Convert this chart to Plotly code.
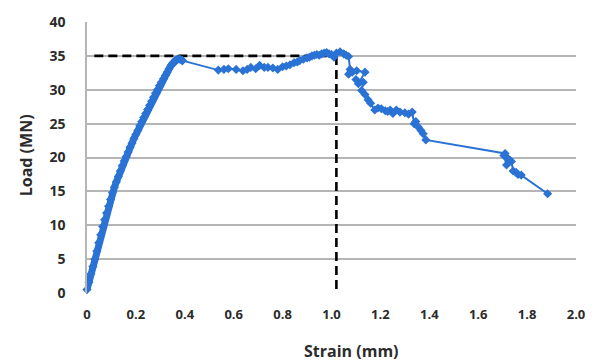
import plotly.graph_objects as go

# Load–strain record (strain in mm, load in MN)
# Loading branch: densely sampled up to first peak
rise_strain = [
    0.000, 0.008, 0.016, 0.024, 0.032, 0.040, 0.048, 0.056, 0.064, 0.072,
    0.080, 0.088, 0.096, 0.104, 0.112, 0.120, 0.128, 0.136, 0.144, 0.152,
    0.160, 0.168, 0.176, 0.184, 0.192, 0.200, 0.208, 0.216, 0.224, 0.232,
    0.240, 0.248, 0.256, 0.264, 0.272, 0.280, 0.288, 0.296, 0.304, 0.312,
    0.320, 0.328, 0.336, 0.344, 0.352, 0.360, 0.370, 0.380, 0.390,
]
rise_load = [
    0.5, 1.6, 2.8, 3.9, 5.0, 6.2, 7.4, 8.6, 9.8, 10.8,
    11.8, 12.8, 13.8, 14.8, 15.6, 16.4, 17.2, 18.0, 18.8, 19.5,
    20.1, 20.8, 21.5, 22.1, 22.8, 23.4, 24.0, 24.7, 25.3, 25.9,
    26.5, 27.1, 27.7, 28.3, 28.9, 29.5, 30.0, 30.6, 31.1, 31.6,
    32.1, 32.6, 33.1, 33.6, 34.0, 34.3, 34.5, 34.5, 34.3,
]
# Plateau and softening branch
post_strain = [
    0.390, 0.537, 0.560, 0.578, 0.610, 0.638, 0.655, 0.670, 0.690, 0.706,
    0.725, 0.740, 0.760, 0.780, 0.800, 0.815, 0.830, 0.847, 0.860, 0.870,
    0.885, 0.900, 0.910, 0.920, 0.930, 0.940, 0.950, 0.960, 0.970, 0.980,
    0.990, 1.000, 1.010, 1.020, 1.035, 1.050, 1.060, 1.070,
    1.076, 1.070, 1.085, 1.103, 1.137, 1.110, 1.100, 1.130, 1.123, 1.137,
    1.150, 1.160, 1.177, 1.190, 1.204, 1.220, 1.230, 1.240, 1.251, 1.265,
    1.280, 1.300, 1.315, 1.330, 1.338, 1.345, 1.355, 1.366, 1.375, 1.386,
    1.710, 1.720, 1.705, 1.716, 1.730, 1.736, 1.743, 1.755, 1.763, 1.776,
    1.884,
]
post_load = [
    34.3, 32.9, 33.0, 33.1, 33.0, 32.8, 33.0, 33.3, 33.1, 33.6,
    33.3, 33.3, 33.2, 33.0, 33.4, 33.5, 33.7, 34.0, 34.1, 34.3,
    34.5, 34.7, 34.8, 35.0, 35.1, 35.2, 35.1, 35.3, 35.4, 35.5,
    35.3, 35.2, 34.8, 35.4, 35.6, 35.3, 35.1, 34.9,
    33.0, 32.3, 32.6, 32.8, 32.6, 30.9, 31.5, 31.1, 29.9, 29.3,
    28.5, 28.0, 27.0, 27.3, 27.2, 26.9, 26.8, 27.0, 26.5, 27.0,
    26.7, 26.6, 26.4, 26.7, 25.0, 25.3, 24.5, 24.0, 23.5, 22.6,
    20.6, 19.9, 20.3, 18.9, 19.6, 19.4, 18.0, 17.8, 17.5, 17.4,
    14.65,
]

# Peak reference lines
peak_load = 35.0
peak_strain = 1.02

x_ticks = [0, 0.2, 0.4, 0.6, 0.8, 1.0, 1.2, 1.4, 1.6, 1.8, 2.0]
x_tick_text = ["0", "0.2", "0.4", "0.6", "0.8", "1.0", "1.2", "1.4", "1.6", "1.8", "2.0"]
y_ticks = [0, 5, 10, 15, 20, 25, 30, 35, 40]

BLUE = "#2a72d4"
TEXT = "#2b2b2b"
GRID = "#b5b5b5"
FONT = "Open Sans"

fig = go.Figure()

dash_line = dict(color="black", width=2.6, dash="9px,5px")
fig.add_trace(go.Scatter(
    x=[0.03, peak_strain], y=[peak_load, peak_load],
    mode="lines", line=dash_line, hoverinfo="skip", showlegend=False,
))
fig.add_trace(go.Scatter(
    x=[peak_strain, peak_strain], y=[peak_load, 0],
    mode="lines", line=dash_line, hoverinfo="skip", showlegend=False,
))

# Loading branch: closely spaced readings merge into a thick band
fig.add_trace(go.Scatter(
    x=rise_strain, y=rise_load, mode="lines+markers",
    line=dict(color=BLUE, width=7),
    marker=dict(symbol="diamond", size=7, color=BLUE),
    cliponaxis=False, showlegend=False,
))
fig.add_trace(go.Scatter(
    x=post_strain, y=post_load, mode="lines+markers",
    line=dict(color=BLUE, width=2),
    marker=dict(symbol="diamond", size=7, color=BLUE),
    cliponaxis=False, showlegend=False,
))

plot_w = 597 - 87 - 15
plot_h = 364 - 19 - 71

fig.update_layout(
    width=597, height=364,
    margin=dict(l=87, r=15, t=19, b=71),
    paper_bgcolor="white", plot_bgcolor="white",
    font=dict(family=FONT, color=TEXT),
    xaxis=dict(
        range=[0, 2], tickvals=x_ticks, ticktext=x_tick_text,
        showgrid=False, zeroline=False, showline=False,
        ticks="", ticklabelstandoff=12,
        tickfont=dict(family=FONT, size=13, color=TEXT, weight="bold"),
    ),
    yaxis=dict(
        range=[0, 40], tickvals=y_ticks,
        showgrid=True, gridcolor=GRID, gridwidth=1.6,
        zeroline=False, showline=True, linecolor=GRID, linewidth=1.6,
        ticks="", ticklabelstandoff=17,
        tickfont=dict(family=FONT, size=14, color=TEXT, weight="bold"),
    ),
    annotations=[
        dict(text="Strain (mm)", x=(355 - 87) / plot_w, y=(293 - 352) / plot_h,
             xref="paper", yref="paper", xanchor="center", yanchor="middle",
             showarrow=False, font=dict(family=FONT, size=16, color=TEXT, weight="bold")),
        dict(text="Load (MN)", textangle=-90, x=(25 - 87) / plot_w, y=(293 - 154) / plot_h,
             xref="paper", yref="paper", xanchor="center", yanchor="middle",
             showarrow=False, font=dict(family=FONT, size=16, color=TEXT, weight="bold")),
    ],
)

fig.write_html("out.html")
